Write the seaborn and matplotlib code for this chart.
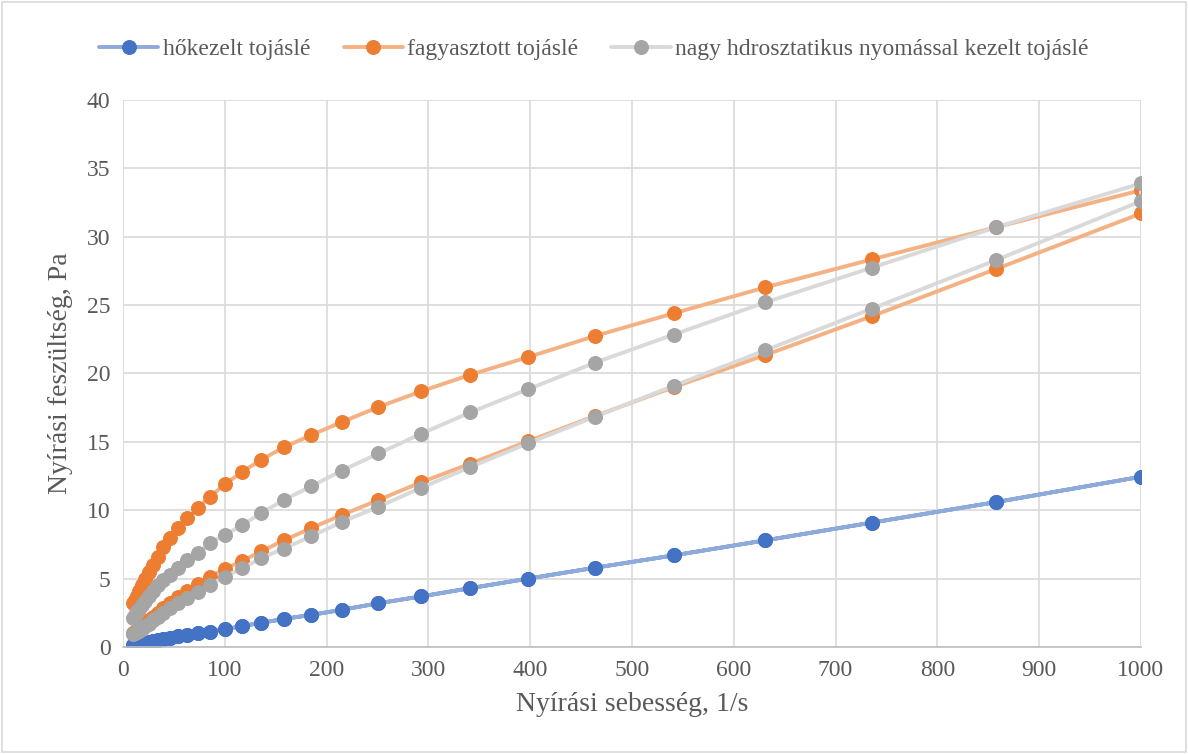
import matplotlib
matplotlib.use("Agg")
import matplotlib.pyplot as plt
import seaborn as sns
import pandas as pd

# shear rate, 1/s (ascending sweep; the descending sweep uses the same points in reverse)
shear_rate = [10, 11.7, 13.6, 15.8, 18.5, 21.5, 25.1, 29.3, 34.1, 39.8, 46.4, 54.1, 63.1,
              73.6, 85.8, 100, 117, 136, 158, 185, 215, 251, 293, 341, 398, 464, 541,
              631, 736, 858, 1000]

# shear stress, Pa (listed by ascending shear rate)
hokezelt_up = [0.15, 0.17, 0.2, 0.23, 0.27, 0.32, 0.37, 0.43, 0.5, 0.58, 0.67, 0.77, 0.88,
               1.0, 1.12, 1.3, 1.53, 1.77, 2.05, 2.35, 2.72, 3.2, 3.7, 4.3, 5.0, 5.8, 6.7,
               7.8, 9.1, 10.6, 12.45]
hokezelt_down = [0.15, 0.17, 0.2, 0.23, 0.27, 0.32, 0.37, 0.43, 0.5, 0.58, 0.67, 0.77, 0.88,
                 1.0, 1.12, 1.3, 1.53, 1.77, 2.05, 2.35, 2.72, 3.2, 3.7, 4.3, 5.0, 5.8, 6.7,
                 7.8, 9.1, 10.6, 12.45]
fagyasztott_up = [3.2, 3.45, 3.75, 4.1, 4.5, 5.0, 5.5, 6.0, 6.6, 7.3, 7.95, 8.7, 9.4, 10.2,
                  11.0, 11.9, 12.8, 13.7, 14.6, 15.5, 16.45, 17.55, 18.7, 19.9, 21.2, 22.75,
                  24.4, 26.3, 28.35, 30.7, 33.4]
fagyasztott_down = [1.0, 1.1, 1.2, 1.35, 1.5, 1.7, 1.95, 2.2, 2.5, 2.85, 3.2, 3.65, 4.1, 4.6,
                    5.15, 5.7, 6.3, 7.0, 7.8, 8.7, 9.65, 10.75, 12.05, 13.4, 15.05, 16.9,
                    19.0, 21.35, 24.2, 27.65, 31.7]
nagynyomas_up = [2.1, 2.35, 2.6, 2.8, 3.1, 3.4, 3.75, 4.1, 4.5, 4.9, 5.3, 5.8, 6.35, 6.85,
                 7.6, 8.2, 8.9, 9.8, 10.75, 11.75, 12.9, 14.15, 15.6, 17.15, 18.85, 20.8,
                 22.85, 25.2, 27.75, 30.7, 33.9]
nagynyomas_down = [0.95, 1.0, 1.1, 1.2, 1.35, 1.5, 1.7, 1.95, 2.2, 2.5, 2.85, 3.2, 3.6, 4.05,
                   4.55, 5.15, 5.75, 6.5, 7.2, 8.1, 9.15, 10.25, 11.65, 13.15, 14.9, 16.85,
                   19.1, 21.7, 24.75, 28.3, 32.6]

labels = ["hőkezelt tojáslé", "fagyasztott tojáslé",
          "nagy hdrosztatikus nyomással kezelt tojáslé"]

sns.set_style("white")
plt.rcParams["font.family"] = ["Liberation Serif", "DejaVu Serif"]

fig = plt.figure(figsize=(11.88, 7.54), dpi=100)
ax = fig.add_axes([0.1035, 0.1419, 0.8569, 0.7255])

series = [
    (labels[0], hokezelt_up, hokezelt_down, "#8eaadb", "#4472c4"),
    (labels[1], fagyasztott_up, fagyasztott_down, "#f4b183", "#ed7d31"),
    (labels[2], nagynyomas_up, nagynyomas_down, "#d9d9d9", "#a5a5a5"),
]

for name, up, down, line_c, mark_c in series:
    df = pd.DataFrame({
        "x": shear_rate + shear_rate[::-1],
        "y": up + down[::-1],
    })
    sns.lineplot(data=df, x="x", y="y", sort=False, estimator=None, ax=ax,
                 color=line_c, linewidth=2.8, marker="o", markersize=10,
                 markerfacecolor=mark_c, markeredgecolor=mark_c, label=name)

ax.set_xlim(0, 1000)
ax.set_ylim(0, 40)
ax.set_xticks(range(0, 1001, 100))
ax.set_yticks(range(0, 41, 5))
ax.grid(True, color="#d9d9d9", linewidth=1.2)
ax.set_axisbelow(True)
for s in ["top", "right", "left"]:
    ax.spines[s].set_visible(False)
ax.spines["bottom"].set_color("#bfbfbf")
ax.spines["bottom"].set_linewidth(1.2)
ax.tick_params(axis="both", length=0, labelsize=17, colors="#595959", pad=9)

ax.set_xlabel("Nyírási sebesség, 1/s", fontsize=20, color="#595959", labelpad=8)
ax.set_ylabel("Nyírási feszültség, Pa", fontsize=20, color="#595959", labelpad=10)

handles, lbls = ax.get_legend_handles_labels()
ax.legend_.remove()
fig.legend(handles, lbls, loc="center", bbox_to_anchor=(0.5, 0.935), ncol=3,
           frameon=False, fontsize=17, labelcolor="#595959", handlelength=2.5,
           columnspacing=1.4, handletextpad=0.2)

fig.patches.append(plt.Rectangle((0.002, 0.002), 0.996, 0.996, transform=fig.transFigure,
                                 fill=False, edgecolor="#d9d9d9", linewidth=1.2))

fig.savefig("out.png", dpi=100, facecolor="white")
